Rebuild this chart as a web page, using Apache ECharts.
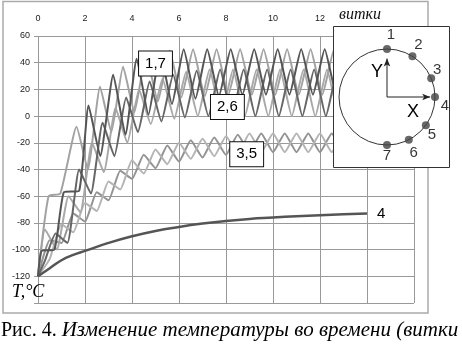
<!DOCTYPE html>
<html>
<head>
<meta charset="utf-8">
<script src="https://cdn.jsdelivr.net/npm/echarts@6/dist/echarts.min.js"></script>
<style>
  html, body { margin: 0; padding: 0; background: #fff; }
  #chart { width: 462px; height: 344px; }
</style>
</head>
<body>
<div id="chart"></div>
<script>
// [витки, T °C] - peaks / troughs
var sensor1 = [[0,-120],[0.15,-101],[0.7,-100],[1.1,-57],[1.75,-56],[2.15,8],[2.65,-30],[3.2,31],[3.72,-14],[4.2,43],[4.7,1],[5.2,48],[5.7,9],[6.2,50],[6.7,13],[7.2,50],[7.7,15],[8.2,50],[8.7,16],[9.2,50],[9.7,16],[10.2,50],[10.7,16],[11.2,50],[11.7,16],[12.2,50],[12.7,16],[13.2,50],[13.7,16],[14,30]];
var sensor7 = [[0,-120],[0.45,-60],[0.95,-58],[1.64,-8],[2.12,-40],[2.64,22],[3.12,-12],[3.62,37],[4.1,3],[4.6,46],[5.1,11],[5.6,49],[6.1,14],[6.6,50],[7.1,15],[7.6,50],[8.1,16],[8.6,50],[9.1,16],[9.6,50],[10.1,16],[10.6,50],[11.1,16],[11.6,50],[12.1,16],[12.6,50],[13.1,16],[13.6,50],[14,24]];
var sensor2 = [[0,-120],[0.3,-108],[0.75,-88],[1.25,-95],[1.75,-40],[2.25,-58],[2.75,-5],[3.25,-30],[3.75,14],[4.25,-12],[4.75,26],[5.25,-4],[5.75,31],[6.25,-1],[6.75,34],[7.25,0],[7.75,35],[8.25,0],[8.75,35],[9.25,0],[9.75,35],[10.25,0],[10.75,35],[11.25,0],[11.75,35],[12.25,0],[12.75,35],[13.25,0],[13.75,35],[14,18]];
var sensor6 = [[0,-120],[0.3,-85],[0.8,-100],[1.3,-60],[1.8,-72],[2.3,-20],[2.8,-42],[3.3,6],[3.8,-20],[4.3,20],[4.8,-6],[5.3,28],[5.8,-2],[6.3,33],[6.8,0],[7.3,35],[7.8,0],[8.3,35],[8.8,0],[9.3,35],[9.8,0],[10.3,35],[10.8,0],[11.3,35],[11.8,0],[12.3,35],[12.8,0],[13.3,35],[13.8,0],[14,7]];
var sensor3 = [[0,-120],[0.5,-93],[1,-95],[1.5,-73],[2,-79],[2.5,-57],[3,-63],[3.5,-41],[4,-47],[4.5,-29],[5,-39],[5.5,-22],[6,-34],[6.5,-18],[7,-31],[7.5,-16],[8,-29],[8.5,-14],[9,-27],[9.5,-13],[10,-27],[10.5,-13],[11,-27],[11.5,-13],[12,-27],[12.5,-13],[13,-27],[13.5,-13],[14,-27]];
var sensor5 = [[0,-120],[0.5,-107],[1,-81],[1.5,-87],[2,-65],[2.5,-71],[3,-49],[3.5,-55],[4,-33],[4.5,-43],[5,-25],[5.5,-36],[6,-20],[6.5,-32],[7,-17],[7.5,-30],[8,-15],[8.5,-28],[9,-13],[9.5,-27],[10,-13],[10.5,-27],[11,-13],[11.5,-27],[12,-13],[12.5,-27],[13,-13],[13.5,-27],[14,-13]];
var sensor4 = [[0,-120],[0.5,-114],[1,-108],[1.5,-104],[2,-101],[3,-95],[4,-90],[5,-86],[6,-83],[7,-80.5],[8,-78.5],[9,-77],[10,-76],[11,-75],[12,-74.2],[13,-73.6],[14,-73]];

// pair labels placed in data units
var pairLabels = ['1,7', '2,6', '3,5'];
var pairLabelAt = [[5.0, 39.4], [8.06, 6.8], [8.88, -28.5]];

// inset: sensor positions on the section (angle, degrees from X axis)
var sensorNames = ['1', '2', '3', '4', '5', '6', '7'];
var sensorAngles = [90, 58, 23, 0, -36, -63, -90];
var nameOffsets = [[4,-14],[6,-11],[6,-8],[10,9],[6,10],[5,13],[0,11]];

var chart = echarts.init(document.getElementById('chart'));

var boxLabel = {
  show: true,
  position: 'inside',
  color: '#000',
  fontFamily: 'Arial',
  fontSize: 15,
  backgroundColor: '#fff',
  borderColor: '#111',
  borderWidth: 1,
  padding: [5, 6, 4, 6]
};

function lineSeries(name, data, color, width, mark) {
  var s = {
    name: name,
    type: 'line',
    data: data,
    showSymbol: false,
    smooth: 0.15,
    z: 1,
    lineStyle: { color: color, width: width },
    itemStyle: { color: color }
  };
  if (mark != null) {
    s.markPoint = {
      symbol: 'rect',
      symbolSize: 0,
      silent: true,
      label: Object.assign({ formatter: pairLabels[mark] }, boxLabel),
      data: [{ coord: pairLabelAt[mark] }]
    };
  }
  return s;
}

var dots = sensorAngles.map(function (a, i) {
  return {
    value: [1, a < 0 ? a + 360 : a],
    label: { offset: nameOffsets[i], formatter: sensorNames[i] }
  };
});

var option = {
  animation: false,
  backgroundColor: '#fff',
  grid: { left: 38, right: 48, top: 36, bottom: 41 },
  xAxis: {
    type: 'value',
    position: 'top',
    min: 0,
    max: 16,
    interval: 2,
    z: 0,
    axisLine: { show: false },
    axisTick: { show: false },
    axisLabel: {
      margin: 13,
      fontSize: 9,
      fontFamily: 'Arial',
      color: '#222',
      formatter: function (v) {
        if (v === 14) return '{i|витки}';
        if (v === 16) return '';
        return v;
      },
      rich: {
        i: { fontFamily: 'Liberation Serif', fontStyle: 'italic', fontSize: 16, color: '#111', padding: [0, 14, 0, 0] }
      }
    },
    splitLine: { lineStyle: { color: '#999', width: 1 } }
  },
  yAxis: {
    type: 'value',
    min: -140,
    max: 60,
    interval: 20,
    z: 0,
    axisLine: { show: false },
    axisTick: { show: true, length: 4, lineStyle: { color: '#999' } },
    axisLabel: {
      margin: 8,
      fontSize: 9,
      fontFamily: 'Arial',
      color: '#222',
      formatter: function (v) { return v === -140 ? '' : v; }
    },
    splitLine: { lineStyle: { color: '#999', width: 1 } }
  },
  polar: { center: [387, 97], radius: 48 },
  angleAxis: {
    type: 'value',
    min: 0,
    max: 360,
    startAngle: 0,
    clockwise: false,
    z: 6,
    axisLine: { lineStyle: { color: '#333', width: 1 } },
    axisTick: { show: false },
    axisLabel: { show: false },
    splitLine: { show: false }
  },
  radiusAxis: { show: false, min: 0, max: 1 },
  graphic: [
    { type: 'rect', z: 0, silent: true, shape: { x: 3, y: 1.5, width: 425, height: 311.5 },
      style: { fill: 'none', stroke: '#aaa', lineWidth: 1.5 } },
    { type: 'rect', z: 5, silent: true, shape: { x: 333.5, y: 26.5, width: 116, height: 141 },
      style: { fill: '#fff', stroke: '#333', lineWidth: 1 } },
    { type: 'text', z: 8, x: 377, y: 72,
      style: { text: 'Y', font: '18px Arial', fill: '#000', align: 'center', verticalAlign: 'middle' } },
    { type: 'text', z: 8, x: 413, y: 112,
      style: { text: 'X', font: '18px Arial', fill: '#000', align: 'center', verticalAlign: 'middle' } },
    { type: 'text', z: 8, x: 12, y: 283,
      style: { text: 'T,°C', font: 'italic 18px "Liberation Serif"', fill: '#000' } },
    { type: 'text', z: 8, x: 1, y: 320,
      style: {
        text: '{a|Рис. 4. }{b|Изменение температуры во времени (витки}',
        fill: '#000',
        rich: {
          a: { fontFamily: 'Liberation Serif', fontSize: 20, color: '#000' },
          b: { fontFamily: 'Liberation Serif', fontStyle: 'italic', fontSize: 21, color: '#000' }
        }
      } }
  ],
  series: [
    lineSeries('3', sensor3, '#939393', 2, null),
    lineSeries('5', sensor5, '#b4b4b4', 2, 2),
    lineSeries('6', sensor6, '#a9a9a9', 2, 1),
    lineSeries('7', sensor7, '#a2a2a2', 2, 0),
    lineSeries('2', sensor2, '#666', 2, null),
    lineSeries('1', sensor1, '#555', 2, null),
    {
      name: '4',
      type: 'line',
      data: sensor4,
      smooth: true,
      showSymbol: false,
      z: 1,
      lineStyle: { color: '#555', width: 2.5 },
      itemStyle: { color: '#555' },
      endLabel: { show: true, formatter: '4', distance: 10, fontSize: 15, fontFamily: 'Arial', color: '#000' }
    },
    // inset: axes arrows
    {
      type: 'line', coordinateSystem: 'polar', z: 7, silent: true,
      lineStyle: { color: '#222', width: 1 }, itemStyle: { color: '#222' },
      data: [{ value: [0, 90], symbol: 'none' }, { value: [0.8, 90], symbol: 'arrow', symbolSize: [5, 8] }]
    },
    {
      type: 'line', coordinateSystem: 'polar', z: 7, silent: true,
      lineStyle: { color: '#222', width: 1 }, itemStyle: { color: '#222' },
      data: [{ value: [0, 0], symbol: 'none' }, { value: [0.9, 0], symbol: 'arrow', symbolSize: [5, 8], symbolRotate: -90 }]
    },
    {
      type: 'line', coordinateSystem: 'polar', z: 7, silent: true,
      lineStyle: { color: '#222', width: 1.2 }, itemStyle: { color: '#222' },
      data: [{ value: [1, 90], symbol: 'none' }, { value: [1.3, 90], symbol: 'arrow', symbolSize: [6, 9] }]
    },
    {
      type: 'scatter', coordinateSystem: 'polar', z: 8, silent: true,
      symbolSize: 8,
      itemStyle: { color: '#444' },
      label: { show: true, position: 'inside', fontSize: 15, fontFamily: 'Arial', color: '#000' },
      data: dots
    }
  ]
};

chart.setOption(option);
</script>
</body>
</html>
